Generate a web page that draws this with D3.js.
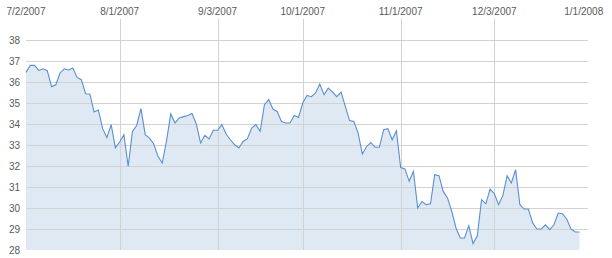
<!DOCTYPE html>
<html>
<head>
<meta charset="utf-8">
<script src="https://cdn.jsdelivr.net/npm/d3@7"></script>
<style>
    body { margin: 0; background: #fff; }
    svg text { font-family: "Liberation Sans", Arial, sans-serif; font-size: 10px; fill: #5a5a5a; }
</style>
</head>
<body>
<svg id="chart" width="612" height="258"></svg>
<script>
// daily closing prices, one per weekday from 7/2/2007 to 12/31/2007
const prices = [
    36.46, 36.79, 36.79, 36.55, 36.63, 36.54, 35.78, 35.87, 36.43, 36.63,
    36.57, 36.67, 36.22, 36.11, 35.44, 35.43, 34.57, 34.67, 33.78, 33.36,
    33.97, 32.86, 33.14, 33.49, 31.98, 33.65, 33.93, 34.73, 33.49, 33.33,
    33.05, 32.46, 32.14, 33.2, 34.48, 34.05, 34.29, 34.35, 34.4, 34.5,
    34.0, 33.1, 33.46, 33.29, 33.7, 33.7, 33.97, 33.52, 33.25, 33.01,
    32.86, 33.17, 33.3, 33.81, 33.97, 33.65, 34.92, 35.16, 34.71, 34.6,
    34.12, 34.05, 34.05, 34.41, 34.31, 35.0, 35.36, 35.3, 35.48, 35.9,
    35.4, 35.71, 35.52, 35.3, 35.52, 34.84, 34.16, 34.12, 33.57, 32.57,
    32.93, 33.12, 32.89, 32.89, 33.73, 33.78, 33.25, 33.68, 31.93, 31.86,
    31.27, 31.74, 30.0, 30.31, 30.16, 30.2, 31.59, 31.54, 30.79, 30.48,
    29.84, 29.05, 28.57, 28.57, 29.16, 28.3, 28.68, 30.4, 30.2, 30.9,
    30.68, 30.16, 30.59, 31.54, 31.19, 31.82, 30.16, 29.95, 29.95, 29.29,
    29.0, 29.0, 29.2, 28.97, 29.2, 29.76, 29.73, 29.48, 29.0, 28.86,
    28.86
];

// x axis labels and the weekday index they sit on
const xTickLabels = ["7/2/2007", "8/1/2007", "9/3/2007", "10/1/2007", "11/1/2007", "12/3/2007", "1/1/2008"];
const xTickIndex = [0, 22, 45, 65, 88, 110, 131];

// y axis ticks
const yTicks = [28, 29, 30, 31, 32, 33, 34, 35, 36, 37, 38];

const plotLeft = 26, plotRight = 588, plotTop = 19, plotBottom = 250;

let x = d3.scaleLinear().domain([0, 132]).range([plotLeft, plotRight]);
let y = d3.scaleLinear().domain([28, 39]).range([plotBottom, plotTop]);

let svg = d3.select("#chart");

// area under the price line
let area = d3.area()
    .x((d, i) => x(i))
    .y0(plotBottom)
    .y1(d => y(d));

svg.append("path")
    .datum(prices)
    .attr("d", area)
    .style("fill", "#dfe9f4");

// horizontal grid lines (none at the bottom edge)
svg.append("g")
    .selectAll("line")
    .data(yTicks.filter(v => v > 28))
    .enter().append("line")
    .attr("x1", plotLeft)
    .attr("x2", plotRight)
    .attr("y1", d => Math.round(y(d)) + 0.5)
    .attr("y2", d => Math.round(y(d)) + 0.5)
    .style("stroke", "#d2d2d2")
    .style("stroke-width", "1px");

// vertical grid lines at the inner date ticks
svg.append("g")
    .selectAll("line")
    .data(xTickIndex.filter(i => i > 0 && i < 131))
    .enter().append("line")
    .attr("x1", d => Math.round(x(d)) + 0.5)
    .attr("x2", d => Math.round(x(d)) + 0.5)
    .attr("y1", plotTop)
    .attr("y2", plotBottom)
    .style("stroke", "#d2d2d2")
    .style("stroke-width", "1px");

// price line
let line = d3.line()
    .x((d, i) => x(i))
    .y(d => y(d));

svg.append("path")
    .datum(prices)
    .attr("d", line)
    .style("fill", "none")
    .style("stroke", "#5b8fd1")
    .style("stroke-width", "1.1px");

// date labels along the top
svg.append("g")
    .selectAll("text")
    .data(xTickIndex)
    .enter().append("text")
    .attr("x", d => x(d))
    .attr("y", 15)
    .style("text-anchor", "middle")
    .text((d, i) => xTickLabels[i]);

// value labels on the left
svg.append("g")
    .selectAll("text")
    .data(yTicks)
    .enter().append("text")
    .attr("x", 20)
    .attr("y", d => y(d))
    .attr("dy", "0.35em")
    .style("text-anchor", "end")
    .text(d => d);
</script>
</body>
</html>
